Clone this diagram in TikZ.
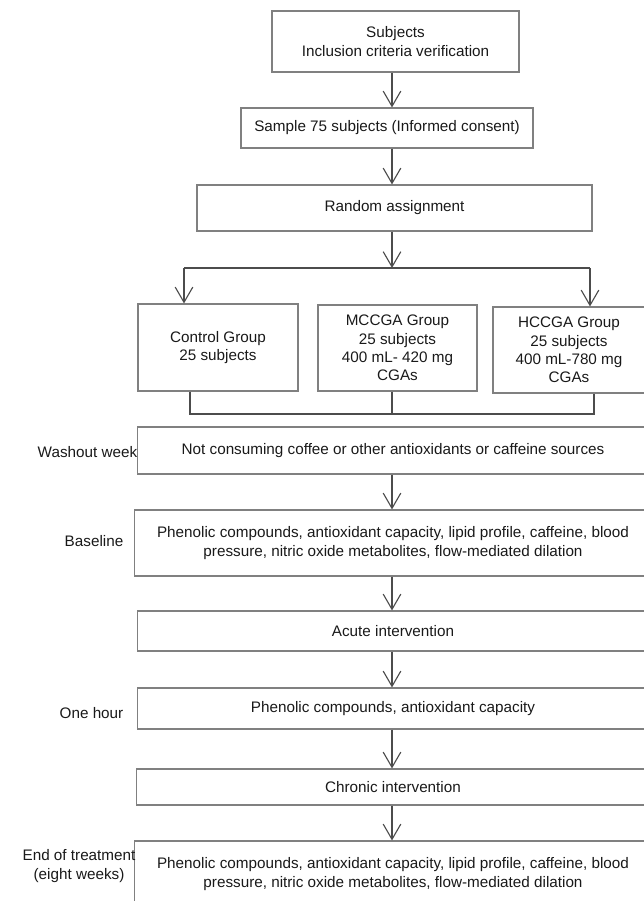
\documentclass[tikz,border=0pt]{standalone}
\usepackage{fontspec}
\setmainfont{Liberation Sans}
\usetikzlibrary{arrows.meta}
\definecolor{boxgray}{gray}{0.5}
\definecolor{linegray}{gray}{0.3}
\definecolor{txt}{gray}{0.1}

\begin{document}
\begin{tikzpicture}[x=0.025cm, y=-0.025cm, font=\fontsize{10.85}{13.1}\selectfont]
  \tikzstyle{bx} = [draw=boxgray, line width=0.8pt, text=txt, align=center, inner sep=0pt, anchor=center]
  \tikzstyle{lbl} = [text=txt, align=center, inner sep=0pt, anchor=center]
  \tikzstyle{ln} = [draw=linegray, line width=0.8pt]
  \tikzstyle{arr} = [ln, -{Straight Barb[length=0.38cm, width=0.44cm]}]
  \useasboundingbox (0,0) rectangle (644,901);
  \clip (0,0) rectangle (644,901);

  % Kopf
  \node[bx, minimum width=6.175cm, minimum height=1.525cm] (subj) at (395.5,41.5) {Subjects\\Inclusion criteria verification};
  \node[bx, minimum width=7.3cm, minimum height=1.0cm] (sample) at (387,128) {Sample 75 subjects (Informed consent)};
  \node[bx, minimum width=9.875cm, minimum height=1.15cm] (random) at (394.5,208) {Random assignment};

  % Gruppen
  \node[bx, minimum width=4.0cm, minimum height=2.175cm] (control) at (218,347.5) {Control Group\\25 subjects};
  \node[bx, minimum width=3.975cm, minimum height=2.15cm] (mccga) at (397.5,348) {MCCGA Group\\25 subjects\\400 mL- 420 mg\\CGAs};
  \node[bx, minimum width=3.8cm, minimum height=2.15cm] (hccga) at (569,350) {HCCGA Group\\25 subjects\\400 mL-780 mg\\CGAs};

  % Ablauf
  \node[bx, minimum width=12.75cm, minimum height=1.175cm] (washout) at (393,450.5) {Not consuming coffee or other antioxidants or caffeine sources};
  \node[bx, minimum width=12.9cm, minimum height=1.65cm] (baseline) at (393,543) {Phenolic compounds, antioxidant capacity, lipid profile, caffeine, blood\\pressure, nitric oxide metabolites, flow-mediated dilation};
  \node[bx, minimum width=12.75cm, minimum height=1.0cm] (acute) at (393,631) {Acute intervention};
  \node[bx, minimum width=12.75cm, minimum height=1.025cm] (onehour) at (393,708.5) {Phenolic compounds, antioxidant capacity};
  \node[bx, minimum width=12.8cm, minimum height=0.9cm] (chronic) at (393,787) {Chronic intervention};
  \node[bx, minimum width=12.9cm, minimum height=1.65cm] (final) at (393,874) {Phenolic compounds, antioxidant capacity, lipid profile, caffeine, blood\\pressure, nitric oxide metabolites, flow-mediated dilation};

  % Zeitpunkte
  \node[lbl] (lwash) at (87.5,452) {Washout week};
  \node[lbl] (lbase) at (94,541) {Baseline};
  \node[lbl] (lhour) at (91.5,713) {One hour};
  \node[lbl] (lend) at (79,866) {End of treatment\\(eight weeks)};

  % Hilfspunkte
  \coordinate (axis) at (392,0);
  \coordinate (split) at (392,268);
  \coordinate (join) at (392,414);
  \coordinate (sl) at (184,0);
  \coordinate (sr) at (590,0);
  \coordinate (jl) at (190,0);
  \coordinate (jr) at (594,0);

  % Verbindungen
  \draw[arr] (subj.south -| axis) -- (sample.north -| axis);
  \draw[arr] (sample.south -| axis) -- (random.north -| axis);
  \draw[arr] (random.south -| axis) -- (split);
  \draw[ln] (split -| sl) -- (split -| sr);
  \draw[arr] (split -| sl) -- (control.north -| sl);
  \draw[arr] (split -| sr) -- (hccga.north -| sr);
  \draw[ln] (control.south -| jl) -- (join -| jl) -- (join -| jr) -- (hccga.south -| jr);
  \draw[ln] (mccga.south -| axis) -- (join);
  \draw[arr] (washout.south -| axis) -- (baseline.north -| axis);
  \draw[arr] (baseline.south -| axis) -- (acute.north -| axis);
  \draw[arr] (acute.south -| axis) -- (onehour.north -| axis);
  \draw[arr] (onehour.south -| axis) -- (chronic.north -| axis);
  \draw[arr] (chronic.south -| axis) -- (final.north -| axis);
\end{tikzpicture}
\end{document}
